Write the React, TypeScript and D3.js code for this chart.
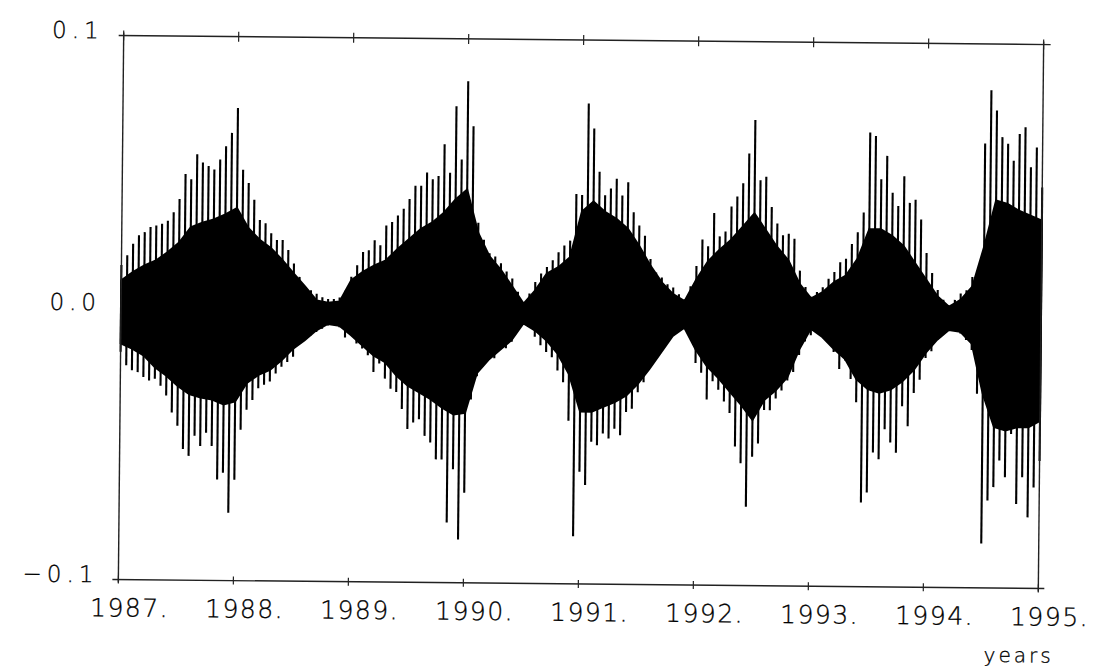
import React from 'react';
import * as d3 from 'd3';

const sampleStart = 1987;
const sampleStep = 0.05;

// tips of the spikes above zero
const spikeHigh = [
  0.0156, 0.0192, 0.0235, 0.0266, 0.0278, 0.0297, 0.0303, 0.0309, 0.0321, 0.0352,
  0.0401, 0.0493, 0.0474, 0.0566, 0.0536, 0.0523, 0.0511, 0.0548, 0.0597, 0.0646,
  0.0738, 0.0511, 0.0462, 0.0401, 0.0327, 0.0315, 0.0278, 0.0254, 0.0254, 0.0217,
  0.0168, 0.0119, 0.0082, 0.0070, 0.0058, 0.0045, 0.0039, 0.0039, 0.0045, 0.0070,
  0.0121, 0.0164, 0.0213, 0.0219, 0.0256, 0.0238, 0.0311, 0.0324, 0.0348, 0.0373,
  0.0409, 0.0458, 0.0458, 0.0507, 0.0483, 0.0495, 0.0612, 0.0507, 0.0752, 0.0556,
  0.0844, 0.0679, 0.0324, 0.0262, 0.0213, 0.0201, 0.0176, 0.0146, 0.0121, 0.0072,
  0.0029, 0.0066, 0.0109, 0.0140, 0.0164, 0.0189, 0.0219, 0.0244, 0.0262, 0.0434,
  0.0430, 0.0767, 0.0675, 0.0516, 0.0430, 0.0455, 0.0491, 0.0430, 0.0479, 0.0369,
  0.0320, 0.0283, 0.0197, 0.0148, 0.0130, 0.0105, 0.0093, 0.0069, 0.0050, 0.0099,
  0.0173, 0.0271, 0.0246, 0.0369, 0.0283, 0.0301, 0.0393, 0.0430, 0.0479, 0.0589,
  0.0712, 0.0491, 0.0504, 0.0393, 0.0332, 0.0289, 0.0295, 0.0277, 0.0160, 0.0100,
  0.0064, 0.0082, 0.0100, 0.0131, 0.0156, 0.0192, 0.0205, 0.0260, 0.0303, 0.0376,
  0.0670, 0.0658, 0.0499, 0.0585, 0.0450, 0.0401, 0.0511, 0.0413, 0.0425, 0.0352,
  0.0229, 0.0156, 0.0094, 0.0058, 0.0033, 0.0058, 0.0082, 0.0094, 0.0143, 0.0168,
  0.0634, 0.0830, 0.0756, 0.0658, 0.0634, 0.0572, 0.0670, 0.0695, 0.0548, 0.0621,
  0.0474,
];

// tips of the spikes below zero
const spikeLow = [
  -0.0163, -0.0212, -0.0230, -0.0237, -0.0255, -0.0267, -0.0261, -0.0286, -0.0322, -0.0384,
  -0.0433, -0.0518, -0.0543, -0.0469, -0.0506, -0.0457, -0.0506, -0.0629, -0.0604, -0.0751,
  -0.0629, -0.0445, -0.0371, -0.0335, -0.0292, -0.0279, -0.0267, -0.0237, -0.0212, -0.0194,
  -0.0175, -0.0126, -0.0102, -0.0096, -0.0083, -0.0071, -0.0059, -0.0053, -0.0065, -0.0102,
  -0.0087, -0.0124, -0.0142, -0.0167, -0.0228, -0.0197, -0.0252, -0.0289, -0.0301, -0.0363,
  -0.0436, -0.0412, -0.0400, -0.0461, -0.0485, -0.0547, -0.0547, -0.0779, -0.0583, -0.0841,
  -0.0669, -0.0326, -0.0240, -0.0203, -0.0161, -0.0173, -0.0142, -0.0136, -0.0112, -0.0063,
  -0.0044, -0.0056, -0.0093, -0.0124, -0.0148, -0.0167, -0.0216, -0.0259, -0.0400, -0.0825,
  -0.0587, -0.0636, -0.0477, -0.0489, -0.0446, -0.0464, -0.0428, -0.0452, -0.0366, -0.0354,
  -0.0293, -0.0256, -0.0195, -0.0158, -0.0121, -0.0085, -0.0054, -0.0048, -0.0048, -0.0072,
  -0.0183, -0.0219, -0.0317, -0.0250, -0.0281, -0.0324, -0.0366, -0.0489, -0.0550, -0.0710,
  -0.0526, -0.0477, -0.0354, -0.0354, -0.0311, -0.0281, -0.0244, -0.0213, -0.0150, -0.0100,
  -0.0077, -0.0053, -0.0071, -0.0102, -0.0138, -0.0200, -0.0169, -0.0237, -0.0322, -0.0690,
  -0.0653, -0.0506, -0.0531, -0.0420, -0.0469, -0.0506, -0.0335, -0.0408, -0.0286, -0.0237,
  -0.0157, -0.0132, -0.0089, -0.0059, -0.0050, -0.0047, -0.0065, -0.0089, -0.0126, -0.0286,
  -0.0837, -0.0678, -0.0629, -0.0531, -0.0592, -0.0433, -0.0690, -0.0592, -0.0739, -0.0629,
  -0.0531,
];

// dense (solid black) band, every 0.1 yr (81 samples)
const coreStep = 0.1;
const coreHigh = [
  0.0100, 0.0131, 0.0156, 0.0174, 0.0205, 0.0241, 0.0297, 0.0315, 0.0327, 0.0346,
  0.0370, 0.0297, 0.0254, 0.0223, 0.0180, 0.0131, 0.0083, 0.0033, 0.0025, 0.0030,
  0.0109, 0.0140, 0.0164, 0.0183, 0.0225, 0.0262, 0.0299, 0.0324, 0.0360, 0.0409,
  0.0446, 0.0287, 0.0201, 0.0152, 0.0091, 0.0029, 0.0078, 0.0140, 0.0164, 0.0201,
  0.0369, 0.0406, 0.0369, 0.0344, 0.0308, 0.0246, 0.0173, 0.0112, 0.0069, 0.0044,
  0.0124, 0.0191, 0.0234, 0.0271, 0.0320, 0.0369, 0.0308, 0.0246, 0.0197, 0.0110,
  0.0058, 0.0082, 0.0119, 0.0143, 0.0205, 0.0315, 0.0315, 0.0290, 0.0254, 0.0192,
  0.0131, 0.0070, 0.0033, 0.0058, 0.0107, 0.0254, 0.0425, 0.0413, 0.0388, 0.0370,
  0.0352,
];
const coreLow = [
  -0.0132, -0.0151, -0.0175, -0.0218, -0.0249, -0.0286, -0.0316, -0.0328, -0.0335, -0.0353,
  -0.0341, -0.0273, -0.0243, -0.0224, -0.0188, -0.0145, -0.0114, -0.0077, -0.0053, -0.0059,
  -0.0093, -0.0130, -0.0167, -0.0191, -0.0240, -0.0277, -0.0301, -0.0326, -0.0357, -0.0381,
  -0.0375, -0.0228, -0.0179, -0.0142, -0.0105, -0.0044, -0.0069, -0.0105, -0.0154, -0.0228,
  -0.0366, -0.0366, -0.0348, -0.0330, -0.0305, -0.0262, -0.0207, -0.0146, -0.0085, -0.0054,
  -0.0134, -0.0195, -0.0238, -0.0287, -0.0336, -0.0391, -0.0317, -0.0281, -0.0232, -0.0130,
  -0.0053, -0.0083, -0.0126, -0.0163, -0.0237, -0.0273, -0.0286, -0.0273, -0.0243, -0.0200,
  -0.0138, -0.0089, -0.0053, -0.0059, -0.0102, -0.0286, -0.0408, -0.0420, -0.0408, -0.0408,
  -0.0384,
];

const yearTicks = [1987, 1988, 1989, 1990, 1991, 1992, 1993, 1994, 1995];
const valueTicks = [0.1, 0.0, -0.1];

const W = 1095;
const H = 668;
const ink = '#222';
const font = '"DejaVu Sans", sans-serif';

export default function App() {
  const x = d3.scaleLinear().domain([1987, 1995]).range([121, 1041]);
  const y = d3.scaleLinear().domain([-0.1, 0.1]).range([584, 40]);

  const spikes = spikeHigh.map((hi, i) => ({
    t: sampleStart + i * sampleStep,
    hi,
    lo: spikeLow[i],
  }));
  const core = coreHigh.map((hi, i) => ({
    t: sampleStart + i * coreStep,
    hi,
    lo: coreLow[i],
  }));

  const coreArea = d3
    .area<{ t: number; hi: number; lo: number }>()
    .x((d) => x(d.t))
    .y0((d) => y(d.lo))
    .y1((d) => y(d.hi));

  const [x0, x1] = x.range();
  const yTop = y(0.1);
  const yBot = y(-0.1);
  // the scan is tilted a bit, so rotate the whole plot around its centre
  const cx = (x0 + x1) / 2;
  const cy = (yTop + yBot) / 2;

  return (
    <div style={{ position: 'absolute', left: 0, top: 0 }}>
      <svg width={W} height={H} style={{ display: 'block', background: '#fff' }}>
        <g transform={`rotate(0.56, ${cx}, ${cy})`}>
          {/* data */}
          <path d={coreArea(core) || ''} fill="#000" stroke="#000" strokeWidth={2} />
          {spikes.map((d, i) => (
            <line
              key={i}
              x1={x(d.t)}
              x2={x(d.t)}
              y1={y(d.lo)}
              y2={y(d.hi)}
              stroke="#000"
              strokeWidth={2.1}
            />
          ))}

          {/* frame */}
          <line x1={x0 - 5} x2={x1 + 7} y1={yTop} y2={yTop} stroke={ink} strokeWidth={1.4} />
          <line x1={x0 - 6} x2={x1 + 6} y1={yBot} y2={yBot} stroke={ink} strokeWidth={1.4} />
          <line x1={x0} x2={x0} y1={yTop - 3} y2={yBot + 3} stroke={ink} strokeWidth={1.4} />
          <line x1={x1} x2={x1} y1={yTop - 3} y2={yBot + 3} stroke={ink} strokeWidth={1.4} />
          {yearTicks.map((t) => (
            <g key={t}>
              <line x1={x(t)} x2={x(t)} y1={yTop - 5} y2={yTop + 5} stroke={ink} strokeWidth={1.2} />
              <line x1={x(t)} x2={x(t)} y1={yBot - 4} y2={yBot + 4} stroke={ink} strokeWidth={1.2} />
            </g>
          ))}

          {/* labels */}
          {yearTicks.map((t) => (
            <text
              key={t}
              x={x(t) - 28}
              y={yBot + 37}
              textAnchor="start"
              fontFamily={font}
              fontSize={25}
              fontWeight={200}
              letterSpacing={1.5}
              fill="#000"
              stroke="#000"
              strokeWidth={0.3}
            >
              {`${t}.`}
            </text>
          ))}
          {valueTicks.map((v) => (
            <text
              key={v}
              x={x0 - 20}
              y={y(v) + 3}
              textAnchor="end"
              fontFamily={font}
              fontSize={23}
              fontWeight={200}
              letterSpacing={5}
              fill="#000"
              stroke="#000"
              strokeWidth={0.3}
            >
              {v < 0 ? `\u2212${Math.abs(v).toFixed(1)}` : v.toFixed(1)}
            </text>
          ))}
          <text
            x={x1 + 16}
            y={yBot + 74}
            textAnchor="end"
            fontFamily={font}
            fontSize={20}
            fontWeight={200}
            letterSpacing={3}
            fill="#000"
            stroke="#000"
            strokeWidth={0.3}
          >
            years
          </text>
        </g>
      </svg>
    </div>
  );
}
